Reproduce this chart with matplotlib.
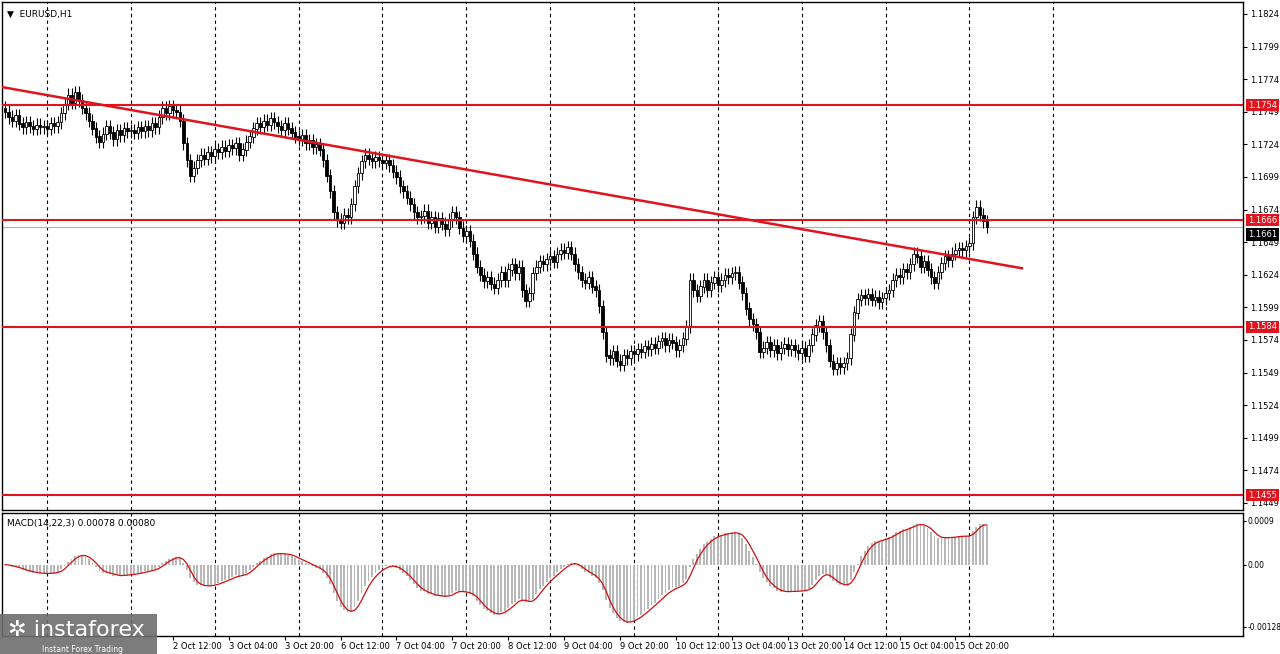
import numpy as np
import pandas as pd
import matplotlib
matplotlib.use('Agg')
import matplotlib.pyplot as plt

# HOURLY CLOSES EURUSD
closes = [
    1.1749, 1.1745, 1.1742, 1.1746, 1.1740, 1.1737, 1.1741, 1.1738, 1.1736, 1.1739, 1.1737, 1.1738,
    1.1736, 1.1740, 1.1738, 1.1741, 1.1748, 1.1755, 1.1762, 1.1756, 1.1764, 1.1758, 1.1752, 1.1748,
    1.1742, 1.1736, 1.1730, 1.1726, 1.1732, 1.1738, 1.1733, 1.1728, 1.1735, 1.1731, 1.1736, 1.1734,
    1.1735, 1.1733, 1.1737, 1.1734, 1.1738, 1.1735, 1.1740, 1.1737, 1.1745, 1.1752, 1.1748, 1.1753,
    1.1750, 1.1749, 1.1742, 1.1725, 1.1712, 1.1700, 1.1706, 1.1712, 1.1716, 1.1713, 1.1718, 1.1715,
    1.1720, 1.1718, 1.1722, 1.1719, 1.1723, 1.1721, 1.1725, 1.1716, 1.1720, 1.1726, 1.1730, 1.1736,
    1.1740, 1.1737, 1.1742, 1.1739, 1.1744, 1.1741, 1.1738, 1.1735, 1.1740, 1.1736, 1.1733, 1.1730,
    1.1728, 1.1731, 1.1725, 1.1727, 1.1722, 1.1724, 1.1720, 1.1712, 1.1700, 1.1688, 1.1672, 1.1666,
    1.1664, 1.1670, 1.1668, 1.1678, 1.1692, 1.1702, 1.1711, 1.1716, 1.1713, 1.1711, 1.1714, 1.1712,
    1.1710, 1.1712, 1.1708, 1.1703, 1.1699, 1.1692, 1.1688, 1.1683, 1.1678, 1.1672, 1.1668, 1.1669,
    1.1673, 1.1664, 1.1668, 1.1661, 1.1667, 1.1663, 1.1659, 1.1666, 1.1672, 1.1668, 1.1660, 1.1654,
    1.1657, 1.1650, 1.1640, 1.1630, 1.1624, 1.1619, 1.1622, 1.1617, 1.1614, 1.1620, 1.1626, 1.1620,
    1.1628, 1.1632, 1.1625, 1.1630, 1.1612, 1.1604, 1.1610, 1.1625, 1.1630, 1.1634, 1.1632, 1.1636,
    1.1638, 1.1634, 1.1640, 1.1643, 1.1641, 1.1645, 1.1640, 1.1632, 1.1626, 1.1620, 1.1618, 1.1622,
    1.1615, 1.1612, 1.1600, 1.1580, 1.1562, 1.1560, 1.1565, 1.1558, 1.1555, 1.1562, 1.1560, 1.1565,
    1.1563, 1.1567, 1.1565, 1.1569, 1.1567, 1.1571, 1.1568, 1.1573, 1.1575, 1.1570, 1.1574, 1.1572,
    1.1566, 1.1570, 1.1575, 1.1584, 1.1620, 1.1612, 1.1608, 1.1615, 1.1620, 1.1612, 1.1618, 1.1622,
    1.1616, 1.1620, 1.1624, 1.1622, 1.1625, 1.1626, 1.1618, 1.1610, 1.1598, 1.1590, 1.1586, 1.1580,
    1.1565, 1.1568, 1.1572, 1.1566, 1.1570, 1.1564, 1.1568, 1.1571, 1.1567, 1.1570, 1.1566, 1.1564,
    1.1568, 1.1562, 1.1570, 1.1578, 1.1585, 1.1588, 1.1580, 1.1570, 1.1558, 1.1552, 1.1556, 1.1553,
    1.1556, 1.1560, 1.1578, 1.1595, 1.1605, 1.1608, 1.1606, 1.1609, 1.1605, 1.1607, 1.1603, 1.1606,
    1.1610, 1.1612, 1.1620, 1.1624, 1.1622, 1.1628, 1.1626, 1.1632, 1.1640, 1.1638, 1.1630, 1.1634,
    1.1628, 1.1622, 1.1618, 1.1626, 1.1633, 1.1638, 1.1635, 1.1640, 1.1643, 1.1644, 1.1643, 1.1646,
    1.1648, 1.1668, 1.1676, 1.1670, 1.1665, 1.1661,
]
first_open = 1.1752
wick = 0.0005

levels = [1.1754, 1.1666, 1.1584, 1.1455]
last_price = 1.1661
trend_x = [-1, 291]
trend_y = [1.1768, 1.1629]

price_ticks = [1.1824, 1.1799, 1.1774, 1.1749, 1.1724, 1.1699, 1.1674, 1.1649,
               1.1624, 1.1599, 1.1574, 1.1549, 1.1524, 1.1499, 1.1474, 1.1449]
date_bars = [48, 64, 80, 96, 112, 128, 144, 160, 176, 192, 208, 224, 240, 256, 272]
date_labels = ['2 Oct 12:00', '3 Oct 04:00', '3 Oct 20:00', '6 Oct 12:00', '7 Oct 04:00',
               '7 Oct 20:00', '8 Oct 12:00', '9 Oct 04:00', '9 Oct 20:00', '10 Oct 12:00',
               '13 Oct 04:00', '13 Oct 20:00', '14 Oct 12:00', '15 Oct 04:00', '15 Oct 20:00']
day_bars = [12 + 24 * k for k in range(13)]

c = np.array(closes)
o = np.concatenate([[first_open], c[:-1]])
n = len(c)
idx = np.arange(n)

# MACD (14,22,3)
s = pd.Series(c)
macd = s.ewm(span=14, adjust=False).mean() - s.ewm(span=22, adjust=False).mean()
signal = macd.rolling(3, min_periods=1).mean()

fig = plt.figure(figsize=(12.8, 6.54), dpi=100)
W, H = 1280, 654
ax = fig.add_axes([2 / W, 1 - 510 / H, 1241 / W, 508 / H])
am = fig.add_axes([2 / W, 1 - 636 / H, 1241 / W, 123 / H], sharex=ax)

ax.set_xlim(-0.9, 354.3)
ax.set_ylim(1.14436, 1.18332)
am.set_ylim(-0.001473, 0.001064)

for a in (ax, am):
    for b in day_bars:
        a.axvline(b, color='black', lw=0.8, ls=(0, (3, 3)), zorder=0)
    for sp in a.spines.values():
        sp.set_linewidth(1.0)

# CANDLES
up = c >= o
ax.vlines(idx, np.minimum(o, c) - wick, np.maximum(o, c) + wick, color='black', lw=0.8, zorder=2)
ax.bar(idx, np.abs(c - o) + 0.00002, bottom=np.minimum(o, c), width=0.75,
       color=np.where(up, 'white', 'black'), edgecolor='black', lw=0.6, zorder=3)

for lv in levels:
    ax.axhline(lv, color='#e0141e', lw=1.5, zorder=4)
ax.axhline(last_price, color='#b0b0b0', lw=0.8, zorder=1)
ax.plot(trend_x, trend_y, color='#e0141e', lw=1.8, zorder=5)

ax.yaxis.tick_right()
ax.set_yticks(price_ticks)
ax.set_yticklabels([f'{t:.4f}' for t in price_ticks], fontsize=6)
ax.tick_params(axis='y', length=3, pad=2)
ax.tick_params(axis='x', bottom=False, labelbottom=False)
for lv in levels:
    ax.text(1.004, lv, f'{lv:.4f}', transform=ax.get_yaxis_transform(), fontsize=6,
            color='white', va='center', bbox=dict(fc='#e0141e', ec='none', pad=1.2))
ax.text(1.004, last_price - 0.0006, f'{last_price:.4f}', transform=ax.get_yaxis_transform(),
        fontsize=6, color='white', va='center', bbox=dict(fc='black', ec='none', pad=1.2))
ax.text(0.004, 0.985, '▼  EURUSD,H1', transform=ax.transAxes, fontsize=6.5, va='top')

# MACD PANEL
am.bar(idx, macd, width=0.55, color='#b8b8b8', zorder=2)
am.plot(idx, signal, color='#d01010', lw=0.9, zorder=3)
am.yaxis.tick_right()
am.set_yticks([0.0009, 0.0, -0.00128])
am.set_yticklabels(['0.0009', '0.00', '-0.00128'], fontsize=5.5)
am.tick_params(axis='y', length=2, pad=1)
am.text(0.004, 0.95, 'MACD(14,22,3) 0.00078 0.00080', transform=am.transAxes, fontsize=6.5, va='top')
am.set_xticks(date_bars)
am.set_xticklabels(date_labels, fontsize=6, ha='left')
am.tick_params(axis='x', length=3, pad=1)

# LOGO
fig.patches.append(plt.Rectangle((0, 0), 157 / W, 40 / H, transform=fig.transFigure,
                                 fc='#6e6e6e', ec='none', alpha=0.9, zorder=10))
fig.text(8 / W, 24 / H, '✲ instaforex', color='white', fontsize=16, va='center', zorder=11)
fig.text(42 / W, 2 / H, 'Instant Forex Trading', color='white', fontsize=5.5, zorder=11)

fig.savefig('out.png', dpi=100)
